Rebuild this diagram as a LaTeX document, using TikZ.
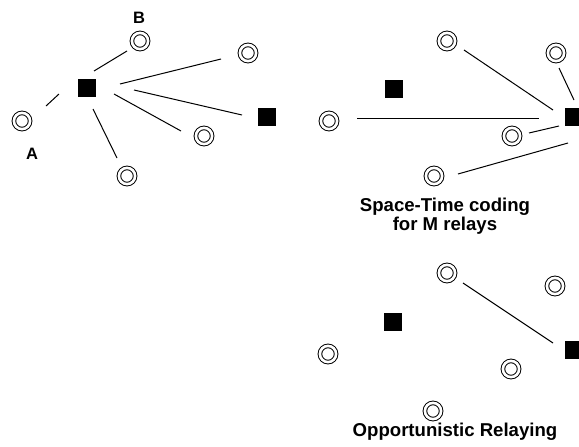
\documentclass[tikz,border=0pt]{standalone}
\usepackage{fontspec}
\setmainfont{Liberation Sans}
\begin{document}
\begin{tikzpicture}[x=1pt,y=-1pt,
  relay/.style={circle,draw,double=white,double distance=2.6pt,line width=1pt,minimum size=16.2pt,inner sep=0pt},
  term/.style={rectangle,fill=black,minimum size=17.5pt,inner sep=0pt},
  link/.style={line width=1pt},
  lbl/.style={font=\bfseries\fontsize{16.5}{16.5}\selectfont},
  captext/.style={font=\bfseries\fontsize{18.6}{17}\selectfont,align=center}]
\useasboundingbox (0,0) rectangle (579,447);
% ---------- left panel ----------
\node[relay] (lb) at (140,41) {};
\node[relay] (lc2) at (248,53) {};
\node[relay] (la) at (22,121) {};
\node[relay] (lc3) at (204,136) {};
\node[relay] (lc4) at (127,176) {};
\node[term] (ls) at (87,88) {};
\node[term] (ld) at (267,117) {};
\node[lbl] (tB) at (139,18) {B};
\node[lbl] (tA) at (32,154) {A};
\coordinate (l1a) at (94,71);  \coordinate (l1b) at (127,51);
\coordinate (l2a) at (59,94);  \coordinate (l2b) at (46,106);
\coordinate (l3a) at (120,84); \coordinate (l3b) at (221,59);
\coordinate (l4a) at (134,90); \coordinate (l4b) at (242,115);
\coordinate (l5a) at (114,94); \coordinate (l5b) at (181,131);
\coordinate (l6a) at (93,109); \coordinate (l6b) at (117,158);
\draw[link] (l1a) -- (l1b);
\draw[link] (l2a) -- (l2b);
\draw[link] (l3a) -- (l3b);
\draw[link] (l4a) -- (l4b);
\draw[link] (l5a) -- (l5b);
\draw[link] (l6a) -- (l6b);
% ---------- right top panel ----------
\node[relay] (rc1) at (447,41) {};
\node[relay] (rc2) at (556,53) {};
\node[relay] (ra) at (329,121) {};
\node[relay] (rc3) at (512,136) {};
\node[relay] (rc4) at (434,176) {};
\node[term] (rs) at (394,89) {};
\node[term] (rd) at (574,117) {};
\coordinate (r1a) at (464,50);  \coordinate (r1b) at (553,110);
\coordinate (r2a) at (559,68);  \coordinate (r2b) at (574,100);
\coordinate (r3a) at (357,118); \coordinate (r3b) at (539,118);
\coordinate (r4a) at (529,133); \coordinate (r4b) at (559,126);
\coordinate (r5a) at (458,174); \coordinate (r5b) at (568,143);
\draw[link] (r1a) -- (r1b);
\draw[link] (r2a) -- (r2b);
\draw[link] (r3a) -- (r3b);
\draw[link] (r4a) -- (r4b);
\draw[link] (r5a) -- (r5b);
\node[captext] (cap1) at (445,216) {Space-Time coding\\for M relays};
% ---------- right bottom panel ----------
\node[relay] (bc1) at (447,273) {};
\node[relay] (bc2) at (555,286) {};
\node[relay] (ba) at (328,354) {};
\node[relay] (bc3) at (511,369) {};
\node[relay] (bc4) at (433,411) {};
\node[term] (bs) at (393,322) {};
\node[term] (bd) at (574,350) {};
\coordinate (b1a) at (463,283); \coordinate (b1b) at (553,343);
\draw[link] (b1a) -- (b1b);
\node[captext] (cap2) at (455,432) {Opportunistic Relaying};
\end{tikzpicture}
\end{document}
